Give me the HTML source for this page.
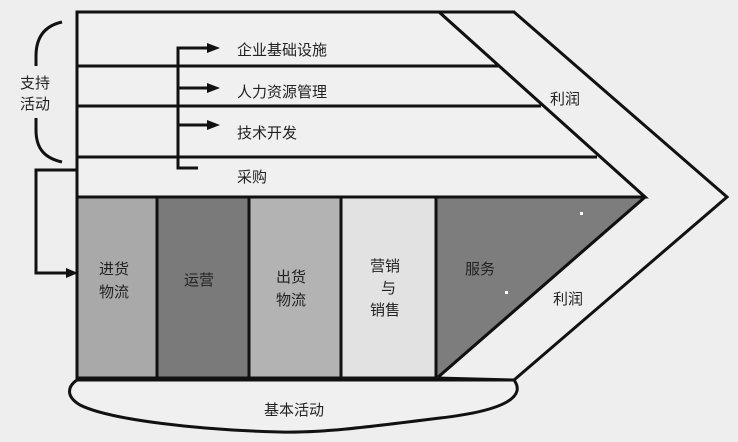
<!DOCTYPE html>
<html><head><meta charset="utf-8"><style>
html,body{margin:0;padding:0;background:#eeeeee;}
svg{display:block;}
text{font-family:"Liberation Sans","Noto Sans CJK SC",sans-serif;font-size:15px;fill:#222;}
</style></head><body>
<svg width="738" height="442" viewBox="0 0 738 442" xmlns="http://www.w3.org/2000/svg">
<rect width="738" height="442" fill="#eeeeee"/>
<polygon points="439,12 514,12 727,197 514,380 437,378 645,197" fill="#efefef" stroke="#111" stroke-width="3" stroke-linejoin="miter"/>
<polygon points="77,12 439,12 645,197 77,197" fill="#f0f0f0" stroke="#111" stroke-width="3"/>
<line x1="77" y1="66" x2="499" y2="66" stroke="#111" stroke-width="3"/>
<line x1="77" y1="106" x2="541" y2="106" stroke="#111" stroke-width="3"/>
<line x1="77" y1="157" x2="597" y2="157" stroke="#111" stroke-width="3"/>
<rect x="77" y="197" width="80" height="181" fill="#a9a9a9"/>
<rect x="157" y="197" width="92" height="181" fill="#7a7a7a"/>
<rect x="249" y="197" width="92" height="181" fill="#b3b3b3"/>
<rect x="341" y="197" width="95" height="181" fill="#e2e2e2"/>
<polygon points="436,197 645,197 437,378" fill="#7d7d7d"/>
<g stroke="#111" stroke-width="3" fill="none">
<line x1="77" y1="197" x2="645" y2="197"/>
<line x1="77" y1="378" x2="437" y2="378"/>
<line x1="157" y1="197" x2="157" y2="378"/>
<line x1="249" y1="197" x2="249" y2="378"/>
<line x1="341" y1="197" x2="341" y2="378"/>
<line x1="436" y1="197" x2="436" y2="378"/>
<line x1="645" y1="197" x2="437" y2="378"/>
<line x1="77" y1="12" x2="77" y2="380"/>
<path d="M77,380 L514,380 C525,395 510,410 440,418 C360,428 320,433 280,432 C200,430 110,420 80,405 C65,396 68,386 77,380 Z" fill="#f0f0f0"/>
<path d="M62,22 C44,26 36,38 36,56 L36,66"/>
<path d="M36,118 L36,130 C36,148 44,158 62,162"/>
<polyline points="77,170 36,170 36,273 70,273"/>
<polyline points="198,168 178,168 178,48 210,48"/>
<line x1="178" y1="88" x2="210" y2="88"/>
<line x1="178" y1="125" x2="210" y2="125"/>
</g>
<g fill="#111">
<polygon points="220,48 207,43 207,53"/>
<polygon points="220,88 207,83 207,93"/>
<polygon points="220,125 207,120 207,130"/>
<polygon points="78,273 66,268 66,278"/>
</g>
<text x="20" y="88">支持</text>
<text x="20" y="109">活动</text>
<text x="237" y="55">企业基础设施</text>
<text x="237" y="97">人力资源管理</text>
<text x="237" y="138">技术开发</text>
<text x="237" y="182">采购</text>
<text x="550" y="104">利润</text>
<text x="553" y="304">利润</text>
<text x="99" y="274">进货</text>
<text x="99" y="297">物流</text>
<text x="184" y="285">运营</text>
<text x="276" y="282">出货</text>
<text x="276" y="305">物流</text>
<text x="370" y="271">营销</text>
<text x="381" y="293">与</text>
<text x="370" y="315">销售</text>
<text x="465" y="274">服务</text>
<text x="264" y="415">基本活动</text>
<rect x="580" y="212" width="3" height="3" fill="#fff"/>
<rect x="505" y="291" width="3" height="3" fill="#fff"/>
</svg>
</body></html>
